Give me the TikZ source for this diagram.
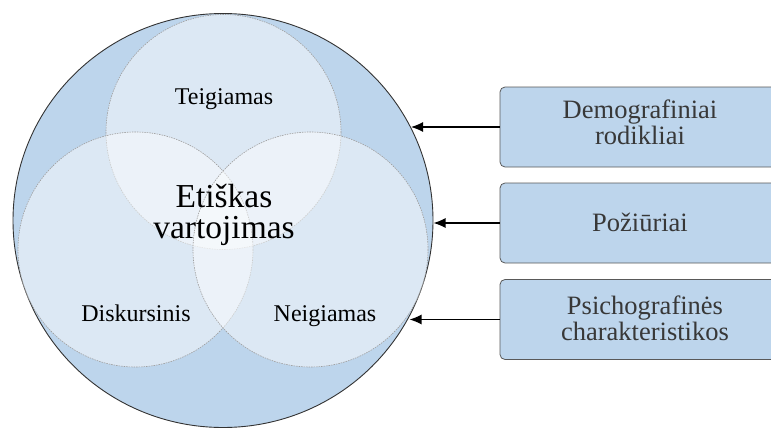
\documentclass[tikz,border=0pt]{standalone}
\usepackage{fontspec}
\setmainfont{Liberation Serif}
\newfontfamily\timesface{Liberation Serif}
\usetikzlibrary{arrows.meta}
\definecolor{outerblue}{RGB}{189,213,236}
\begin{document}
\begin{tikzpicture}[x=1pt,y=-1pt,
  rim/.style={draw=black!80, line width=0.9pt, fill=outerblue},
  lobe/.style={draw=black!38, dash pattern=on 1.5pt off 1pt, line width=0.6pt,
               fill=white, fill opacity=0.47},
  factor/.style={draw=black!65, line width=0.8pt, fill=outerblue,
                 rounded corners=5pt, minimum width=280pt, minimum height=80pt,
                 inner sep=0pt},
  ftext/.style={text=black!78, font=\timesface\fontsize{26.5}{26}\selectfont, anchor=base},
  ltext/.style={font=\timesface\fontsize{24}{24}\selectfont, anchor=base},
  ctext/.style={font=\timesface\fontsize{33.5}{31}\selectfont, anchor=base},
  arr/.style={-{Latex[length=12pt,width=10pt]}, line width=1.2pt}
]
\useasboundingbox (0,0) rectangle (771,428);

% outer population circle
\path[rim] (223,220.5) ellipse [x radius=210, y radius=207];

% three overlapping segments
\path[lobe] (223.5,132) circle [radius=117.5];
\path[lobe] (135.5,249.5) circle [radius=117.5];
\path[lobe] (310.5,249.5) circle [radius=117.5];

% segment labels
\node[ltext] (teig) at (224,104) {Teigiamas};
\node[ltext] (disk) at (136,321) {Diskursinis};
\node[ltext] (neig) at (325,321) {Neigiamas};
\node[ctext] (eth1) at (224,207) {Etiškas};
\node[ctext] (eth2) at (224,238) {vartojimas};

% influencing factors
\node[factor] (f1) at (640,127) {};
\node[factor] (f2) at (640,223) {};
\node[factor] (f3) at (640,319.5) {};

\node[ftext] (f1a) at (640,118) {Demografiniai};
\node[ftext] (f1b) at (640,144) {rodikliai};
\node[ftext] (f2a) at (640,231) {Požiūriai};
\node[ftext] (f3a) at (645,314) {Psichografinės};
\node[ftext] (f3b) at (645,340) {charakteristikos};

% arrow tips on the rim of the outer circle
\coordinate (t1) at (411,127);
\coordinate (t2) at (433.5,223);
\coordinate (t3) at (409.5,319.5);

\draw[arr] (f1.west) -- (t1);
\draw[arr] (f2.west) -- (t2);
\draw[arr] (f3.west) -- (t3);
\end{tikzpicture}
\end{document}
